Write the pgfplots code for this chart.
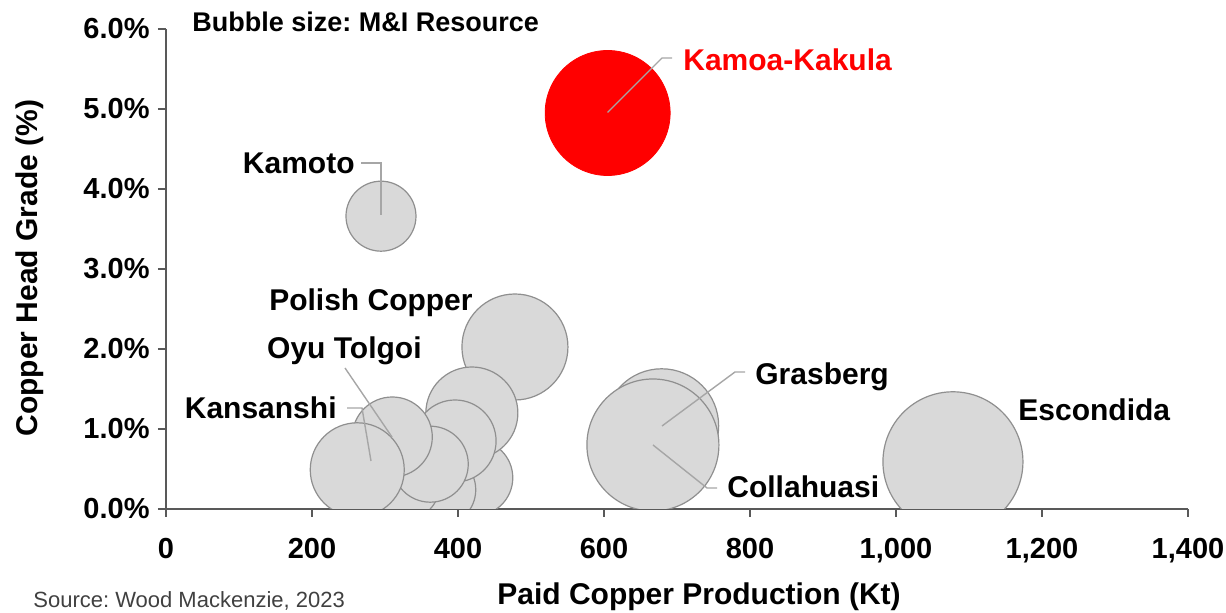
\documentclass[border=0pt]{standalone}
\usepackage{fontspec}
\setmainfont{Liberation Sans}
\usepackage{pgfplots}
\pgfplotsset{compat=1.18}
\frenchspacing
\definecolor{bub}{HTML}{D9D9D9}
\definecolor{bubedge}{HTML}{8F8F8F}
\definecolor{axgray}{HTML}{595959}
\definecolor{leader}{HTML}{A6A6A6}
\definecolor{srcgray}{HTML}{404040}
\newcommand{\bubble}[3]{\addplot[only marks, mark=*, mark size=#3pt, mark options={fill=bub, draw=bubedge, line width=0.6pt}] coordinates {(#1,#2)};}
\begin{document}
\begin{tikzpicture}
\begin{axis}[
  at={(0,0)}, anchor=south west,
  scale only axis, width=511pt, height=240pt,
  xmin=0, xmax=1400, ymin=0, ymax=6,
  axis x line*=bottom, axis y line*=left,
  axis line style={axgray, line width=0.75pt},
  xtick={0,200,...,1400}, ytick={0,1,...,6},
  tick align=outside, major tick length=4pt,
  tick style={axgray, line width=0.75pt},
  /pgf/number format/assume math mode=true,
  /pgf/number format/1000 sep={,},
  ticklabel style={font=\fontsize{14.5}{16}\selectfont\bfseries, inner sep=0pt},
  xticklabel shift=10.25pt,
  yticklabel shift=4pt,
  yticklabel={\pgfmathprintnumber[fixed,fixed zerofill,precision=1]{\tick}\%},
  clip marker paths=true,
]
% Polish Copper
\bubble{478}{2.025}{26.5}
% cluster
\bubble{423}{0.39}{19}
\bubble{375}{0.24}{18}
\bubble{327}{0.30}{17.5}
\bubble{419}{1.20}{23}
\bubble{396}{0.85}{20.5}
\bubble{362}{0.56}{19}
\bubble{310}{0.90}{20}
\bubble{262}{0.49}{23.5}
% Kamoto
\bubble{294.5}{3.66}{17.5}
% Grasberg, Collahuasi
\bubble{679}{1.04}{28.5}
\bubble{667}{0.80}{33}
% Escondida
\bubble{1078}{0.59}{35}
% Kamoa-Kakula
\addplot[only marks, mark=*, mark size=31.25pt, mark options={fill=red, draw=red}] coordinates {(605,4.95)};
\end{axis}
% leaders
\begin{scope}[leader, line width=0.7pt]
\draw (220.75pt,198.25pt) -- (248pt,225.5pt) -- (253pt,225.5pt);
\draw (97.5pt,173pt) -- (107.5pt,173pt) -- (107.5pt,147pt);
\draw (89.5pt,70.5pt) -- (113pt,36pt);
\draw (90.5pt,50.5pt) -- (98pt,50.5pt) -- (102.5pt,24pt);
\draw (289.5pt,68.5pt) -- (284.5pt,68.5pt) -- (248pt,41.5pt);
\draw (275.5pt,10.5pt) -- (270.5pt,10.5pt) -- (243.5pt,32pt);
\end{scope}
% labels
\begin{scope}[every node/.style={inner sep=0pt, font=\fontsize{15}{17}\selectfont\bfseries}]
\node[anchor=base west, text=red] at (258.5pt,219.2pt) {Kamoa-Kakula};
\node[anchor=base east] at (94.5pt,167.6pt) {Kamoto};
\node[anchor=base east] at (153.5pt,99.2pt) {Polish Copper};
\node[anchor=base east] at (128pt,75.2pt) {Oyu Tolgoi};
\node[anchor=base east] at (85.5pt,45.2pt) {Kansanshi};
\node[anchor=base west] at (294.5pt,62.2pt) {Grasberg};
\node[anchor=base west] at (280.5pt,5.7pt) {Collahuasi};
\node[anchor=base west] at (426pt,44.2pt) {Escondida};
\node[anchor=base] at (266.5pt,-48pt) {Paid Copper Production (Kt)};
\node[rotate=90] at (-68pt,120.5pt) {Copper Head Grade (\%)};
\end{scope}
\node[anchor=west, inner sep=0pt, font=\fontsize{13.5}{15}\selectfont\bfseries] at (13pt,243.5pt) {Bubble size: M\&I Resource};
\node[anchor=base west, inner sep=0pt, text=srcgray, font=\fontsize{11}{13}\selectfont] at (-66.5pt,-49.4pt) {Source: Wood Mackenzie, 2023};
\pgfresetboundingbox
\useasboundingbox (-83pt,-52pt) rectangle (530pt,254.5pt);
\end{tikzpicture}
\end{document}
